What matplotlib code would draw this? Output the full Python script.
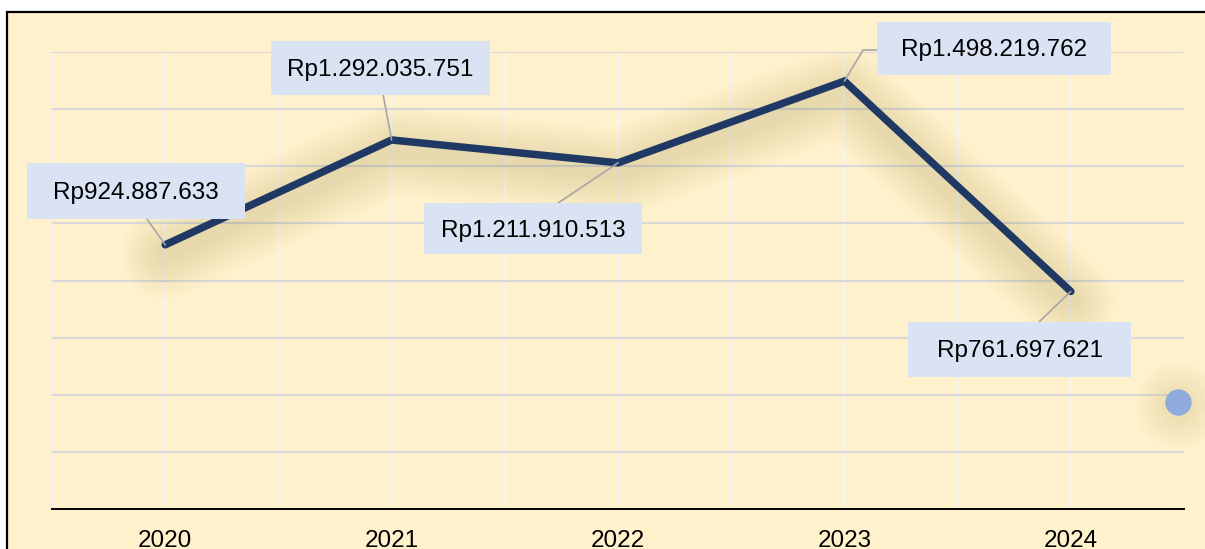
import numpy as np
import matplotlib
matplotlib.use("Agg")
import matplotlib.pyplot as plt
import matplotlib.transforms as mtransforms
from matplotlib.patches import Rectangle
from matplotlib.path import Path

plt.rcParams["font.family"] = ["Liberation Sans", "DejaVu Sans"]

# data
years = ["2020", "2021", "2022", "2023", "2024"]
values = [924887633, 1292035751, 1211910513, 1498219762, 761697621]
labels = ["Rp924.887.633", "Rp1.292.035.751", "Rp1.211.910.513",
          "Rp1.498.219.762", "Rp761.697.621"]

# label text offsets from each point and box sizes (pixels)
offsets = [(-29, 52), (-11, 70), (-85, -68), (150, 31), (-51, -60)]
box_w = [218, 219, 218, 234, 223]
box_h = [56, 54, 51, 53, 55]

line_color = "#1F3864"
bg = "#FFF1CC"


def make_box(w, h):
    # fixed-size rectangle around the text, raised a little so the caps look centred
    def box(x0, y0, width, height, mutation_size):
        cx = x0 + width / 2
        cy = y0 + height / 2 + 2
        return Path([(cx - w / 2, cy - h / 2), (cx + w / 2, cy - h / 2),
                     (cx + w / 2, cy + h / 2), (cx - w / 2, cy + h / 2),
                     (cx - w / 2, cy - h / 2)], closed=True)
    return box


fig = plt.figure(figsize=(12.05, 5.49), dpi=100, facecolor="white")

# cream panel with black border on left/top
fig.add_artist(Rectangle((7 / 1205, -0.05), 1.1, 0.05 + 537 / 549,
                         transform=fig.transFigure, facecolor=bg,
                         edgecolor="black", linewidth=1.6, zorder=0))

ax = fig.add_axes([52 / 1205, 40 / 549, 1132 / 1205, 457 / 549])
ax.set_facecolor("none")
x = np.arange(len(years))

ax.set_xlim(-0.5, 4.5)
ax.set_ylim(0, 1.6e9)
ax.set_yticks(np.arange(0, 1.6e9 + 1, 2e8))
ax.set_xticks(x)
ax.set_xticks(np.arange(-0.5, 4.6, 1.0), minor=True)
ax.set_xticklabels(years, fontsize=17.5)
ax.tick_params(axis="y", left=False, labelleft=False)
ax.tick_params(axis="x", which="both", length=0, pad=15)
ax.grid(axis="y", color="#D9D9D9", linewidth=1.5, zorder=0)
ax.grid(axis="x", which="both", color="#F4F4F4", linewidth=1.5, zorder=0)
for s in ["left", "right", "top"]:
    ax.spines[s].set_visible(False)
ax.spines["bottom"].set_color("black")
ax.spines["bottom"].set_linewidth(1.4)
ax.set_axisbelow(True)

# soft shadow under the line
shadow = mtransforms.offset_copy(ax.transData, fig=fig, x=0, y=-10, units="dots")
for w in np.linspace(10, 64, 12):
    ax.plot(x, values, color="#8A7438", linewidth=w, alpha=0.016,
            solid_capstyle="round", solid_joinstyle="round",
            transform=shadow, zorder=1)

ax.plot(x, values, color=line_color, linewidth=5.4,
        solid_capstyle="round", solid_joinstyle="miter", zorder=3)

for i, (lab, off) in enumerate(zip(labels, offsets)):
    relpos = (0.5, 0.0) if off[1] > 0 else (0.5, 1.0)
    conn = "arc3"
    if i == 3:
        relpos = (0.0, 0.5)
        conn = "angle,angleA=0,angleB=59,rad=0"
    ax.annotate(lab, xy=(x[i], values[i]), xytext=off,
                textcoords="offset pixels", ha="center", va="center",
                fontsize=17.5, color="black", zorder=5,
                bbox=dict(boxstyle=make_box(box_w[i], box_h[i]),
                          facecolor="#DAE3F3", edgecolor="none"),
                arrowprops=dict(arrowstyle="-", color="#A6A6A6", lw=1.2,
                                relpos=relpos, shrinkA=0, shrinkB=0,
                                connectionstyle=conn))

# legend-like dot at the right edge with glow
for s in np.linspace(22, 60, 8):
    fig.lines.append(plt.Line2D([1178 / 1205], [1 - 405 / 549], marker="o",
                                markersize=s, color="#C8B070", alpha=0.03,
                                linestyle="none", transform=fig.transFigure))
fig.lines.append(plt.Line2D([1178 / 1205], [1 - 402 / 549], marker="o",
                            markersize=19, color="#8FAADC", markeredgewidth=0,
                            linestyle="none", transform=fig.transFigure))

fig.savefig("out.png", dpi=100, facecolor="white")
